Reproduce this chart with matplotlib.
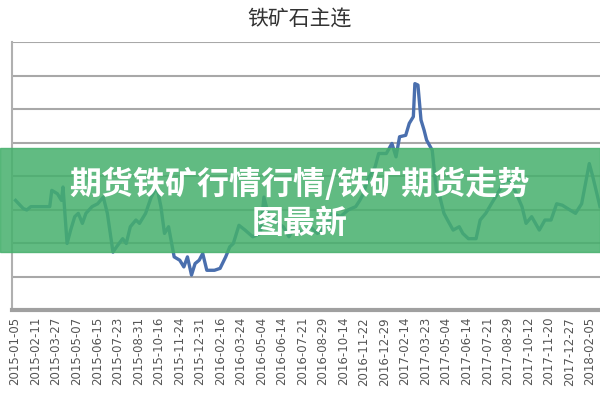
import matplotlib.pyplot as plt
import matplotlib.patches as patches

plt.rcParams['font.family'] = ['Noto Sans CJK SC', 'DejaVu Sans']

# days since 2015-01-05 and price
days = [1, 16, 23, 31, 68, 72, 83, 91, 94, 102, 109, 117, 124, 132, 139, 151, 162, 173, 181, 192,
        199, 211, 218, 226, 237, 244, 256, 267, 278, 286, 293, 301, 312, 323, 331, 338, 346, 353, 361, 368,
        376, 391, 402, 413, 421, 428, 439, 451, 466, 481, 488, 496, 511, 526, 537, 548, 563, 578, 593, 608,
        623, 638, 653, 668, 676, 683, 691, 706, 713, 728, 739, 747, 754, 766, 773, 781, 784, 790, 796, 802,
        807, 818, 826, 833, 841, 848, 859, 871, 878, 889, 904, 912, 923, 934, 946, 961, 972, 983, 994, 1002,
        1013, 1028, 1039, 1051, 1062, 1073, 1088, 1099, 1111, 1126, 1133, 1147]
price = [429, 412, 409, 416, 416, 450, 443, 429, 457, 339, 367, 395, 402, 381, 402, 416, 422, 436, 402, 321,
         332, 349, 339, 374, 388, 381, 402, 436, 457, 416, 360, 374, 311, 304, 290, 311, 273, 297, 304, 318,
         283, 283, 287, 311, 332, 339, 377, 367, 353, 360, 436, 402, 384, 374, 353, 374, 360, 374, 360, 374,
         402, 395, 409, 416, 429, 443, 471, 499, 527, 527, 548, 520, 562, 565, 590, 604, 673, 670, 597, 576,
         555, 534, 450, 436, 402, 388, 367, 374, 360, 349, 349, 388, 402, 422, 443, 471, 471, 443, 416, 381,
         395, 367, 388, 388, 422, 419, 409, 402, 422, 506, 478, 416]
tick_labels = ['2015-01-05', '2015-02-11', '2015-03-27', '2015-05-07', '2015-06-15', '2015-07-23',
               '2015-08-31', '2015-10-16', '2015-11-24', '2015-12-31', '2016-02-16', '2016-03-24',
               '2016-05-04', '2016-06-14', '2016-07-21', '2016-08-29', '2016-10-14', '2016-11-22',
               '2016-12-29', '2017-02-14', '2017-03-23', '2017-05-04', '2017-06-14', '2017-07-21',
               '2017-08-29', '2017-10-12', '2017-11-20', '2017-12-27', '2018-02-05']
assert len(days) == len(price)

fig = plt.figure(figsize=(6, 4), dpi=100)
ax = fig.add_axes([0.02, 0.225, 0.98, 0.67])
ax.plot(days, price, color='#4a6fae', lw=2.4)
ax.set_xlim(-6, 1147)
ax.set_ylim(200, 760)
ax.set_yticks(range(200, 761, 70))
ax.set_yticklabels([])
ax.tick_params(axis='y', length=0)
ax.grid(axis='y', color='#a8a8a8', lw=1.5)
ax.set_axisbelow(True)
n = len(tick_labels)
ax.set_xticks([i * 1127 / (n - 1) for i in range(n)])
ax.set_xticklabels(tick_labels, rotation=90, fontsize=8.5, color='#555555', family='DejaVu Sans')
ax.tick_params(axis='x', length=0, pad=5)
for s in ['top', 'right']:
    ax.spines[s].set_visible(False)
ax.spines['left'].set_color('#b0b0b0')
ax.spines['left'].set_linewidth(1.5)
ax.spines['bottom'].set_color('#a0a0a0')
ax.spines['bottom'].set_linewidth(3)

fig.text(0.5, 0.95, '铁矿石主连', ha='center', va='center', fontsize=15, color='#333333')

fig.patches.append(patches.Rectangle((0, 0.37), 1, 0.26, transform=fig.transFigure,
                                     color='#45b06c', alpha=0.85, zorder=5))
fig.text(0.5, 0.54, '期货铁矿行情行情/铁矿期货走势', ha='center', va='center', fontsize=23,
         color='white', weight='bold', zorder=6)
fig.text(0.5, 0.44, '图最新', ha='center', va='center', fontsize=23,
         color='white', weight='bold', zorder=6)

fig.savefig('out.png', dpi=100)
